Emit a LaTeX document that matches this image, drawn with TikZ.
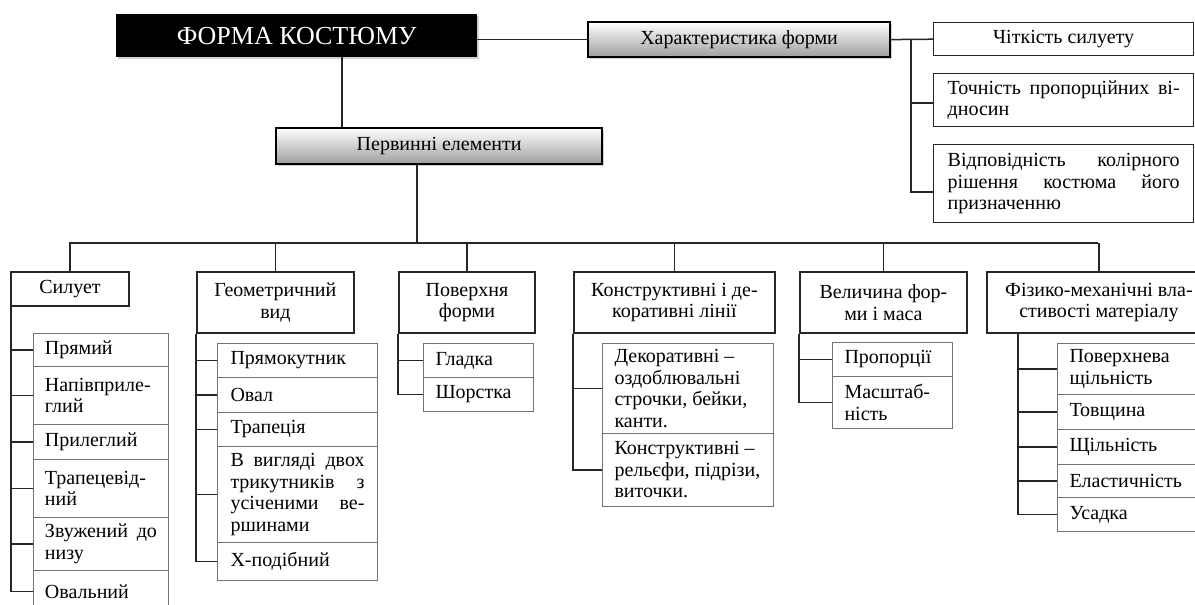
\documentclass[tikz,border=0pt]{standalone}
\usepackage{fontspec}
\setmainfont{Liberation Serif}
\usetikzlibrary{shadows}
\newcommand{\bx}[6]{\node[#1,anchor=north west,inner sep=0pt,minimum width={(#5-#3)*1pt},minimum height={(#6-#4)*1pt}] (#2) at (#3,#4)}
\newcommand{\lt}[2]{\parbox{#1pt}{\raggedright #2}}
\newcommand{\ct}[2]{\parbox{#1pt}{\centering #2}}
\newcommand{\spr}[1]{\makebox[\linewidth][s]{#1}}
\tikzset{
  lnk/.style={draw=black!85, line width=1.5pt},
  blk/.style={fill=black, text=white, font=\fontsize{26}{30}\selectfont,
    drop shadow={opacity=0.35, shadow xshift=1.5pt, shadow yshift=-1.5pt}},
  gbox/.style={draw=black, line width=2.2pt, top color=white, bottom color=black!38,
    drop shadow={opacity=0.35, shadow xshift=1.5pt, shadow yshift=-1.5pt}},
  rbox/.style={draw=black!85, line width=1.4pt},
  hbox/.style={draw=black!85, line width=1.9pt},
  ibox/.style={draw=black!55, line width=1pt},
}
\begin{document}
\begin{tikzpicture}[x=1pt,y=-1pt,font=\fontsize{20}{21.5}\selectfont]
\useasboundingbox (0,0) rectangle (1195,605);
\clip (0,0) rectangle (1195,605);
\fill[white] (0,0) rectangle (1195,605);
% top level
\bx{blk}{fk}{116}{14}{477}{57} {ФОРМА КОСТЮМУ};
\bx{gbox}{xf}{587}{21}{889}{56} {Характеристика форми};
\bx{gbox}{pe}{275}{127}{601}{163} {Первинні елементи};
\bx{rbox}{r1}{933}{22}{1193}{55} {Чіткість силуету};
\bx{rbox}{r2}{933}{73}{1193}{126} {\lt{232}{\spr{Точність пропорційних ві-}\\дносин}};
\bx{rbox}{r3}{933}{144}{1193}{222} {\lt{232}{\spr{Відповідність колірного}\\\spr{рішення костюма його}\\призначенню}};
\draw[lnk] (xf.west -| fk.east) -- (xf.west);
\draw[lnk] (xf.east) -- (r1.west);
\coordinate (rb) at (911,38.5);
\draw[lnk] (rb) |- (r2.west |- 0,103);
\draw[lnk] (rb) |- (r3.west |- 0,192);
\draw[lnk] (fk.south -| 342,0) -- (pe.north -| 342,0);
% headings
\bx{hbox}{h1}{10}{271}{128}{305} {Силует};
\bx{hbox}{h2}{196}{271}{353}{332} {\ct{145}{Геометричний\\вид}};
\bx{hbox}{h3}{398}{271}{534}{332} {\ct{128}{Поверхня\\форми}};
\bx{hbox}{h4}{573}{271}{774}{332} {\ct{195}{Конструктивні і де-\\коративні лінії}};
\bx{hbox}{h5}{799}{271}{966}{332} {\ct{160}{Величина фор-\\ми і маса}};
\bx{hbox}{h6}{986}{271}{1210}{332} {\ct{218}{Фізико-механічні вла-\\стивості матеріалу}};
\coordinate (busl) at (69,243);
\coordinate (busr) at (1098,243);
\coordinate (busm) at (417,243);
\draw[lnk] (busl) -- (busr);
\draw[lnk] (pe.south -| busm) -- (busm);
\foreach \h in {h1,h2,h3,h4,h5,h6} \draw[lnk] (\h.north |- busl) -- (\h.north);
% column 1
\bx{ibox}{a1}{33}{333}{168}{366} {\lt{112}{Прямий}};
\bx{ibox}{a2}{33}{366}{168}{424} {\lt{112}{Напівприле-\\глий}};
\bx{ibox}{a3}{33}{424}{168}{459} {\lt{112}{Прилеглий}};
\bx{ibox}{a4}{33}{459}{168}{517} {\lt{112}{Трапецевід-\\ний}};
\bx{ibox}{a5}{33}{517}{168}{570} {\lt{112}{\spr{Звужений до}\\низу}};
\bx{ibox}{a6}{33}{570}{168}{612} {\lt{112}{Овальний}};
\foreach \i in {a1,a2,a3,a4,a5,a6} \draw[lnk] (h1.south -| 11,0) |- (\i.west);
% column 2
\bx{ibox}{b1}{217}{343}{377}{377} {\lt{134}{Прямокутник}};
\bx{ibox}{b2}{217}{377}{377}{412} {\lt{134}{Овал}};
\bx{ibox}{b3}{217}{412}{377}{446} {\lt{134}{Трапеція}};
\bx{ibox}{b4}{217}{446}{377}{542} {\lt{134}{\spr{В вигляді двох}\\\spr{трикутників з}\\\spr{усіченими ве-}\\ршинами}};
\bx{ibox}{b5}{217}{542}{377}{580} {\lt{134}{Х-подібний}};
\foreach \i in {b1,b2,b3,b4,b5} \draw[lnk] (h2.south -| 196,0) |- (\i.west);
% column 3
\bx{ibox}{c1}{423}{343}{533}{377} {\lt{86}{Гладка}};
\bx{ibox}{c2}{423}{377}{533}{411} {\lt{86}{Шорстка}};
\foreach \i in {c1,c2} \draw[lnk] (h3.south -| 398,0) |- (\i.west);
% column 4
\bx{ibox}{d1}{602}{343}{773}{433} {\lt{147}{Декоративні –\\оздоблювальні\\строчки, бейки,\\канти.}};
\bx{ibox}{d2}{602}{433}{773}{506} {\lt{147}{Конструктивні –\\рельєфи, підрізи,\\виточки.}};
\foreach \i in {d1,d2} \draw[lnk] (h4.south -| 573,0) |- (\i.west);
% column 5
\bx{ibox}{e1}{832}{342}{952}{376} {\lt{96}{Пропорції}};
\bx{ibox}{e2}{832}{376}{952}{428} {\lt{96}{Масштаб-\\ність}};
\foreach \i in {e1,e2} \draw[lnk] (h5.south -| 799,0) |- (\i.west);
% column 6
\bx{ibox}{f1}{1057}{343}{1215}{394} {\lt{134}{Поверхнева\\щільність}};
\bx{ibox}{f2}{1057}{394}{1215}{429} {\lt{134}{Товщина}};
\bx{ibox}{f3}{1057}{429}{1215}{464} {\lt{134}{Щільність}};
\bx{ibox}{f4}{1057}{464}{1215}{497} {\lt{134}{Еластичність}};
\bx{ibox}{f5}{1057}{497}{1215}{531} {\lt{134}{Усадка}};
\foreach \i in {f1,f2,f3,f4,f5} \draw[lnk] (h6.south -| 1018,0) |- (\i.west);
\end{tikzpicture}
\end{document}
